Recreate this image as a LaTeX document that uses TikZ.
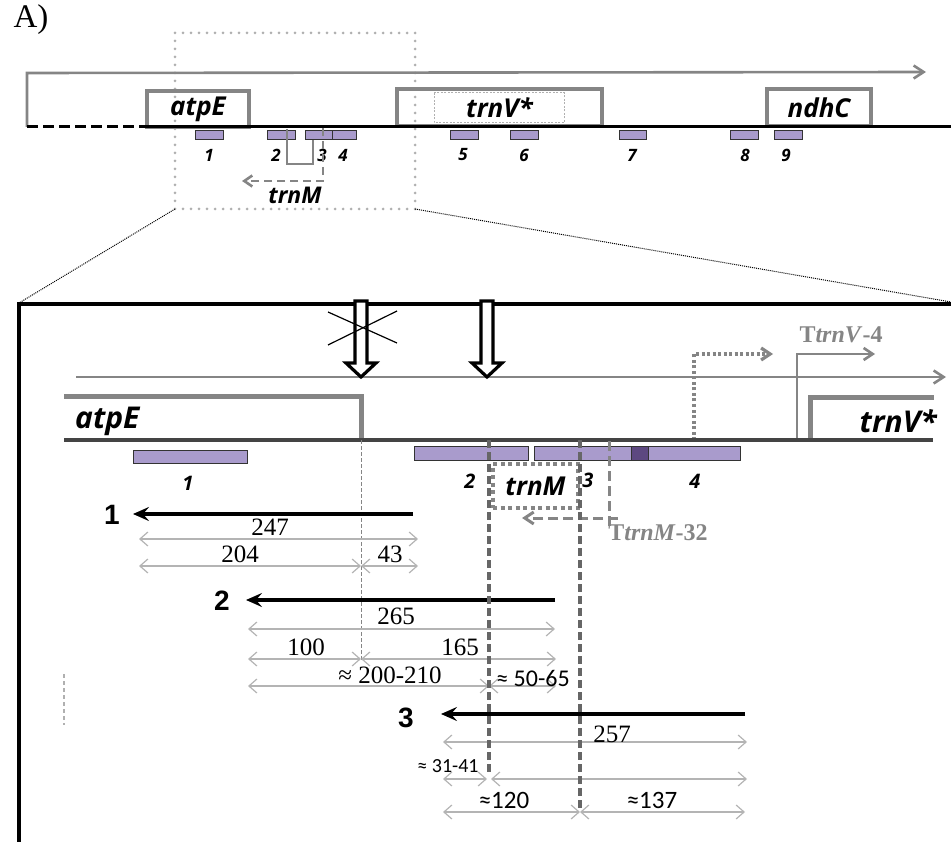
\documentclass[tikz,border=0pt]{standalone}
\usepackage{fontspec}
\setmainfont{Liberation Serif}
\newfontfamily\genefont{Open Sans}
\newfontfamily\calfont{Carlito}
\newfontfamily\arfont{Liberation Sans}
\usetikzlibrary{
    positioning,
    calc,
    arrows.meta
}
\definecolor{LineGray}{HTML}{858585}
\definecolor{RulerGray}{HTML}{B4B4B4}
\definecolor{DotGray}{HTML}{B0B0B0}
\definecolor{AxisDark}{HTML}{444444}
\definecolor{MarkGray}{HTML}{666666}
\definecolor{ProbeFill}{HTML}{A99BCC}
\definecolor{ProbeDark}{HTML}{5D4880}

\tikzset{
    genebox/.style={draw=LineGray, line width=3.2pt, inner sep=0pt,
        font=\genefont\bfseries\itshape\fontsize{26}{30}\selectfont},
    genetext/.style={inner sep=0pt, font=\genefont\bfseries\itshape\fontsize{30}{34}\selectfont},
    probe/.style={draw=black!80, fill=ProbeFill, line width=1pt, inner sep=0pt},
    probenum/.style={inner sep=0pt, font=\genefont\bfseries\itshape\fontsize{17}{20}\selectfont},
    probenumbig/.style={inner sep=0pt, font=\genefont\bfseries\itshape\fontsize{20}{24}\selectfont},
    bracket/.style={draw=LineGray, line width=5pt},
    promoter/.style={draw=LineGray, line width=2.6pt, -{Straight Barb[length=9pt,width=12pt]}},
    readarrow/.style={line width=4pt, -{Stealth[length=16pt,width=14pt,inset=6pt]}},
    readnum/.style={inner sep=0pt, font=\arfont\bfseries\fontsize{28}{32}\selectfont},
    ruler/.style={draw=RulerGray, line width=1.2pt,
        {Straight Barb[length=8pt,width=14pt]}-{Straight Barb[length=8pt,width=14pt]}},
    rulernum/.style={inner sep=0pt, font=\fontsize{25}{29}\selectfont},
    rulerapprox/.style={inner sep=0pt, font=\calfont\fontsize{25}{29}\selectfont},
    vmark/.style={draw=MarkGray, line width=3.6pt, dash pattern=on 8pt off 4pt},
    hollow/.style={draw=black, line width=3.2pt, fill=white, line join=miter}
}

\begin{document}
\begin{tikzpicture}[x=1pt, y=-1pt]
\useasboundingbox (0,0) rectangle (951,842);

\node[inner sep=0pt, font=\fontsize{33}{36}\selectfont] (panel) at (31,20) {A)};

% overview of the region
\draw[draw=DotGray, line width=3pt, line cap=round, dash pattern=on 0pt off 8pt] (175,33) rectangle (415,209);
\draw[draw=LineGray, line width=2.6pt, -{Straight Barb[length=10pt,width=13pt]}] (27,127) -- (27,73) -- (926,72);

\node[genebox, minimum width=102pt, minimum height=36pt] (atpEtop) at (198,109) {atpE};
\node[genebox, minimum width=205pt, minimum height=37pt] (trnVtop) at (499.5,107.5) {trnV*};
\draw[draw=DotGray, line width=1pt, dash pattern=on 2pt off 1.5pt] (434,93) rectangle (564,123);
\node[genebox, minimum width=104pt, minimum height=37pt] (ndhCtop) at (819,107.5) {ndhC};

\draw[line width=3pt, dash pattern=on 11pt off 5pt] (27,127) -- (140,127);
\draw[line width=3pt] (140,127) -- (951,127);

\foreach \n/\x/\w/\lx in {1/209/28/209, 2/281/28/276, 3/318.5/27/322, 4/344/24/343,
        5/464/28/463, 6/524/28/524, 7/633/27/632, 8/744/28/745, 9/788/28/786}{
    \node[probe, minimum width=\w pt, minimum height=9pt] (p\n) at (\x,135.5) {};
    \node[probenum] (pl\n) at (\lx,155) {\n};
}

\draw[draw=LineGray, line width=2.3pt] (287,129) |- (313,164) -- (313,140);
\draw[draw=LineGray, line width=2.6pt, dash pattern=on 8pt off 5pt, -{Straight Barb[length=8pt,width=11pt]}] (323,128) |- (242,181);
\node[genetext, font=\genefont\bfseries\itshape\fontsize{23}{27}\selectfont] (trnMtop) at (295,195) {trnM};

\draw[line width=1pt, dash pattern=on 1pt off 1pt] (175,209) -- (19,303);
\draw[line width=1pt, dash pattern=on 1pt off 1pt] (415,209) -- (951,302);

% enlarged region
\draw[line width=4pt] (19,842) -- (19,304) -- (951,304);

\draw[draw=LineGray, line width=2.6pt, -{Straight Barb[length=10pt,width=13pt]}] (76,377) -- (946,377);
\foreach \hx in {361,487}{
    \draw[hollow] ({\hx-6},301) -- ({\hx+6},301) -- ({\hx+6},363) -- ({\hx+15},363)
        -- (\hx,377) -- ({\hx-15},363) -- ({\hx-6},363) -- cycle;
}
\draw[line width=1.2pt] (328,312) -- (397,343);
\draw[line width=1.2pt] (328,345) -- (397,311);

\draw[promoter, line width=3.2pt, dash pattern=on 3pt off 2.5pt] (694,440) |- (773,354);
\draw[promoter] (797,440) |- (875,354);
\node[inner sep=0pt, text=LineGray, font=\bfseries\fontsize{24}{28}\selectfont] (TtrnV) at (841,335) {T\textit{trnV}-4};

\draw[bracket] (64,397) -- (361,397) -- (361,440);
\node[genetext, anchor=west] (atpE) at (75,421) {atpE};
\draw[bracket] (810,440) -- (810,398) -- (934,398);
\node[genetext, anchor=east] (trnV) at (937,421) {trnV*};

\draw[line width=3.6pt, AxisDark] (64,440) -- (933,440);

\node[probe, minimum width=114pt, minimum height=13pt] (q1) at (190,456.5) {};
\node[probe, minimum width=114pt, minimum height=14pt] (q2) at (471,453) {};
\node[probe, minimum width=206pt, minimum height=14pt] (q34) at (637,453) {};
\node[probe, fill=ProbeDark, minimum width=17pt, minimum height=14pt] (qmark) at (639.5,453) {};
\node[probenumbig] (ql1) at (188,483) {1};
\node[probenumbig] (ql2) at (470,481) {2};
\node[probenumbig] (ql3) at (588,480) {3};
\node[probenumbig] (ql4) at (695,481) {4};

\node[genetext, draw=LineGray, line width=3.6pt, dash pattern=on 4pt off 3.5pt,
    minimum width=85pt, minimum height=44pt, font=\genefont\bfseries\itshape\fontsize{26}{30}\selectfont] (trnM) at (535.5,486) {trnM};
\draw[draw=LineGray, line width=3pt, dash pattern=on 10pt off 5pt] (609,441) -- (609,526);
\draw[draw=LineGray, line width=3pt, dash pattern=on 10pt off 5pt, -{Straight Barb[length=9pt,width=12pt]}] (618,518) -- (522,518);
\node[inner sep=0pt, text=LineGray, font=\bfseries\fontsize{24}{28}\selectfont] (TtrnM) at (658,533) {T\textit{trnM}-32};

\draw[draw=LineGray, line width=1pt, dash pattern=on 4pt off 2pt] (361,440) -- (361,660);
\draw[draw=DotGray, line width=1.2pt, dash pattern=on 4pt off 3pt] (64,674) -- (64,725);

% reads and their lengths
\node[readnum] (read1) at (112,515) {1};
\coordinate (r1a) at (413,514);
\coordinate (r1b) at (133,514);
\draw[readarrow] (r1a) -- (r1b);
\draw[ruler] (139,539) -- (418,539);
\node[rulernum] (d247) at (270,527) {247};
\draw[ruler] (139,566) -- (361,566);
\node[rulernum] (d204) at (240,554) {204};
\draw[ruler] (361,566) -- (418,566);
\node[rulernum] (d43) at (390,554) {43};

\node[readnum] (read2) at (222,601) {2};
\coordinate (r2a) at (555,600);
\coordinate (r2b) at (246,600);
\draw[readarrow] (r2a) -- (r2b);
\draw[ruler] (248,629) -- (555,629);
\node[rulernum] (d265) at (396,616) {265};
\draw[ruler] (248,659) -- (361,659);
\node[rulernum] (d100) at (306,647) {100};
\draw[ruler] (361,659) -- (556,659);
\node[rulernum] (d165) at (460,647) {165};
\draw[ruler] (248,686) -- (489,686);
\node[rulernum] (d200) at (390,675) {≈ 200-210};
\draw[ruler] (489,686) -- (556,686);
\node[rulerapprox, font=\calfont\fontsize{24}{28}\selectfont] (d50) at (533,678) {≈ 50-65};

\node[readnum] (read3) at (406,718) {3};
\coordinate (r3a) at (745,714);
\coordinate (r3b) at (441,714);
\draw[readarrow] (r3a) -- (r3b);
\draw[ruler] (443,742) -- (747,742);
\node[rulernum] (d257) at (612,734) {257};
\draw[ruler] (443,779) -- (487,779);
\node[rulerapprox, font=\calfont\fontsize{20}{24}\selectfont] (d31) at (448,766) {≈ 31-41};
\draw[ruler] (491,779) -- (747,779);
\draw[ruler] (443,812) -- (580,812);
\node[rulerapprox] (d120) at (504,800) {≈120};
\draw[ruler] (580,812) -- (745,812);
\node[rulerapprox] (d137) at (652,800) {≈137};

\draw[vmark] (489,440) -- (489,773);
\draw[vmark] (580,440) -- (580,810);

\end{tikzpicture}
\end{document}
